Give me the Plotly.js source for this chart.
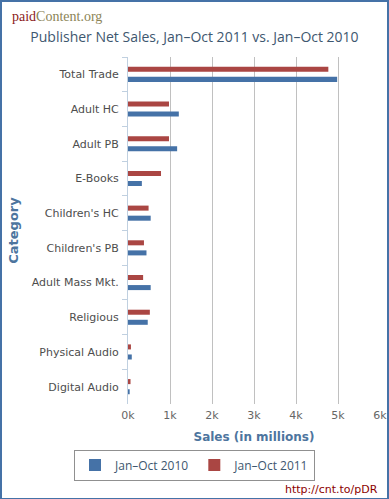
<!DOCTYPE html>
<html><head><meta charset="utf-8">
<script src="https://cdn.plot.ly/plotly-3.0.1.min.js"></script>
<style>
html,body{margin:0;padding:0;background:#fff;}
#frame{position:absolute;left:0;top:0;width:385px;height:496px;border:2px solid #4572A7;box-sizing:content-box;}
#chart{position:absolute;left:0;top:0;width:389px;height:499px;}
</style>
</head><body>
<div id="chart"></div>
<div id="frame" style="pointer-events:none"></div>
<script>
const categories = ["Total Trade","Adult HC","Adult PB","E-Books","Children's HC","Children's PB","Adult Mass Mkt.","Religious","Physical Audio","Digital Audio"];
const sales2010 = [4980, 1210, 1170, 330, 540, 440, 540, 470, 90, 40];
const sales2011 = [4770, 976, 976, 786, 490, 380, 360, 520, 70, 60];
const tickValues = [0, 1000, 2000, 3000, 4000, 5000, 6000];
const tickLabels = ["0k","1k","2k","3k","4k","5k","6k"];

const traces = [
  {type:'bar', orientation:'h', name:'Jan–Oct 2011', y:categories, x:sales2011,
   marker:{color:'#AA4643'}, legendrank:2, hoverinfo:'x+y'},
  {type:'bar', orientation:'h', name:'Jan–Oct 2010', y:categories, x:sales2010,
   marker:{color:'#4572A7'}, legendrank:1, hoverinfo:'x+y'}
];

const layout = {
  width:389, height:499,
  margin:{l:128, r:9, t:57, b:95},
  paper_bgcolor:'#fff', plot_bgcolor:'#fff',
  font:{family:'DejaVu Sans, sans-serif', color:'#4d4d4d', size:11},
  barmode:'group', bargap:0.42, bargroupgap:0.5,
  showlegend:true,
  title:{text:'Publisher Net Sales, Jan–Oct 2011 vs. Jan–Oct 2010',
    font:{family:'Open Sans, sans-serif', size:14, color:'#3E576F'},
    x:0.5, xref:'container', y:1-37/499, yref:'container', yanchor:'middle'},
  xaxis:{range:[0,6000], tickvals:tickValues, ticktext:tickLabels,
    showgrid:true, gridcolor:'#C0C0C0', gridwidth:1, zeroline:false, showline:false,
    ticks:'', ticklabelstandoff:3, tickfont:{size:11, color:'#666'},
    title:{text:'<b>Sales (in millions)</b>', font:{size:12, color:'#4d759e'}, standoff:11},
    fixedrange:true},
  yaxis:{autorange:'reversed', type:'category', showgrid:false, zeroline:false,
    showline:true, linecolor:'#C0D0E0', linewidth:1,
    ticks:'outside', tickson:'boundaries', ticklen:5, tickcolor:'#C0D0E0',
    tickfont:{size:11, color:'#4d4d4d'}, ticklabelstandoff:6,
    title:{text:'<b>Category</b>', font:{size:13, color:'#4d759e'}, standoff:10},
    fixedrange:true},
  legend:{orientation:'h', xref:'container', yref:'container', x:0.5, xanchor:'center',
    y:1-465/499, yanchor:'middle', bordercolor:'#909090', borderwidth:1,
    bgcolor:'#fff', font:{family:'Open Sans, sans-serif', size:12, color:'#3E576F'},
    itemwidth:30, traceorder:'normal'},
  annotations:[
    {text:'<span style="color:#8B1A1A">paid</span><span style="color:#8C8456">Content.org</span>',
     xref:'paper', yref:'paper', x:-118/252, y:1+40/347, xanchor:'left', yanchor:'middle',
     showarrow:false, font:{family:'Liberation Serif, DejaVu Serif, serif', size:14}},
    {text:'http://cnt.to/pDR', xref:'paper', yref:'paper', x:1, y:-86/347,
     xanchor:'right', yanchor:'middle', showarrow:false,
     font:{family:'DejaVu Sans, sans-serif', size:11, color:'#8B0000'}}
  ]
};
Plotly.newPlot('chart', traces, layout, {displayModeBar:false, staticPlot:true});
</script>
</body></html>
